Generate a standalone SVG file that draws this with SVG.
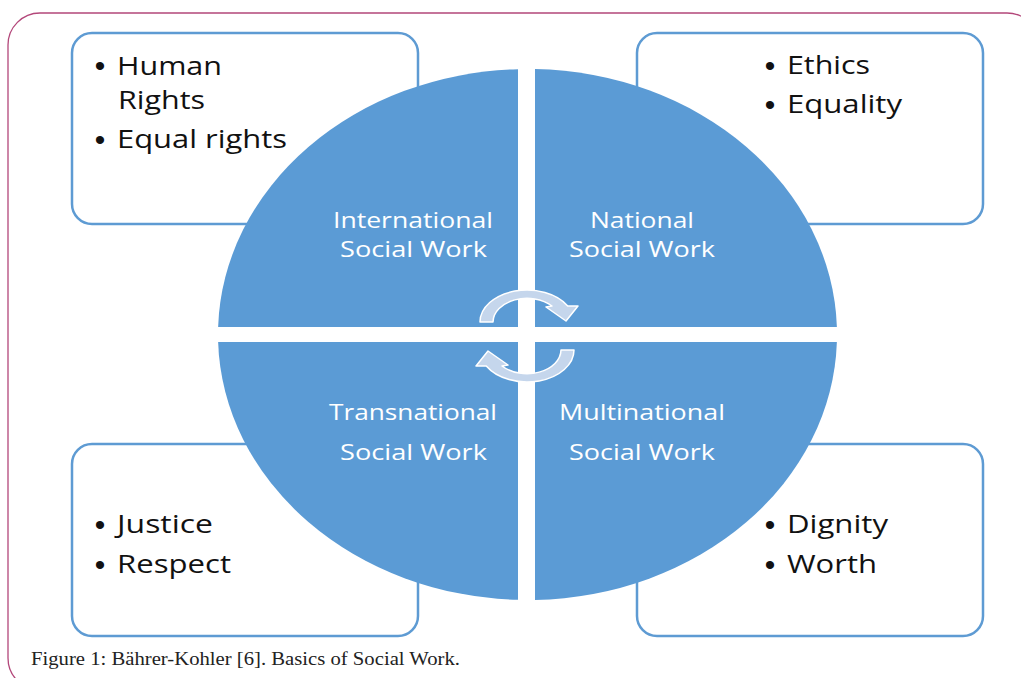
<svg xmlns="http://www.w3.org/2000/svg" width="1021" height="678" viewBox="0 0 1021 678">
<style>
.frame{fill:none;stroke:#b3477a;stroke-width:1.3}
.box{fill:#ffffff;stroke:#5e9bd3;stroke-width:2.5}
.quad{fill:#5b9bd5}
.cyc{fill:#c5d6ec;stroke:#ffffff;stroke-width:1.5;stroke-linejoin:round}
.lbl{font-family:"Open Sans","Liberation Sans",sans-serif;font-size:22px;fill:#ffffff}
.item{font-family:"Open Sans","Liberation Sans",sans-serif;font-size:25px;fill:#111111}
.bul{font-family:"Liberation Sans",Arial,sans-serif;font-size:30px;fill:#111111;text-anchor:middle}
.cap{font-family:"Liberation Serif","Times New Roman",serif;font-size:18px;fill:#222222}
</style>
<defs>
<path id="cycArrow" class="cyc" d="M480,322 A47,32 0 0 1 567.7,306 L578,306 L566,321 L546,307 L552,306 A34,24 0 0 0 493,322 Z"/>
</defs>
<rect class="frame" x="8" y="13" width="1031" height="677" rx="32" ry="32"/>

<g id="box-tl">
<rect class="box" x="72" y="33" width="346" height="191" rx="20" ry="20"/>
<text class="bul" x="100" y="76">•</text>
<text class="item" x="117" y="74.5" textLength="105" lengthAdjust="spacingAndGlyphs">Human</text>
<text class="item" x="118" y="109" textLength="87" lengthAdjust="spacingAndGlyphs">Rights</text>
<text class="bul" x="100" y="150">•</text>
<text class="item" x="117" y="148" textLength="170" lengthAdjust="spacingAndGlyphs">Equal rights</text>
</g>
<g id="box-tr">
<rect class="box" x="637" y="33" width="346" height="191" rx="20" ry="20"/>
<text class="bul" x="770" y="76">•</text>
<text class="item" x="787" y="74" textLength="83" lengthAdjust="spacingAndGlyphs">Ethics</text>
<text class="bul" x="770" y="115">•</text>
<text class="item" x="787" y="113" textLength="115" lengthAdjust="spacingAndGlyphs">Equality</text>
</g>
<g id="box-bl">
<rect class="box" x="72" y="444" width="346" height="192" rx="20" ry="20"/>
<text class="bul" x="100" y="535">•</text>
<text class="item" x="117" y="533" textLength="96" lengthAdjust="spacingAndGlyphs">Justice</text>
<text class="bul" x="100" y="575">•</text>
<text class="item" x="117" y="573" textLength="114" lengthAdjust="spacingAndGlyphs">Respect</text>
</g>
<g id="box-br">
<rect class="box" x="637" y="444" width="346" height="192" rx="20" ry="20"/>
<text class="bul" x="770" y="535">•</text>
<text class="item" x="787" y="533" textLength="101" lengthAdjust="spacingAndGlyphs">Dignity</text>
<text class="bul" x="770" y="575">•</text>
<text class="item" x="787" y="573" textLength="90" lengthAdjust="spacingAndGlyphs">Worth</text>
</g>

<g id="q-international">
<path class="quad" d="M518,327 L218.12,327 A309.5,265.5 0 0 1 518,69.13 Z"/>
<text class="lbl" x="333" y="228" textLength="160" lengthAdjust="spacingAndGlyphs">International</text>
<text class="lbl" x="340" y="257" textLength="147" lengthAdjust="spacingAndGlyphs">Social Work</text>
</g>
<g id="q-national">
<path class="quad" d="M535,327 L535,69.08 A309.5,265.5 0 0 1 836.88,327 Z"/>
<text class="lbl" x="590" y="228" textLength="104" lengthAdjust="spacingAndGlyphs">National</text>
<text class="lbl" x="569" y="257" textLength="146" lengthAdjust="spacingAndGlyphs">Social Work</text>
</g>
<g id="q-multinational">
<path class="quad" d="M535,342 L836.88,342 A309.5,265.5 0 0 1 535,599.92 Z"/>
<text class="lbl" x="559" y="420" textLength="166" lengthAdjust="spacingAndGlyphs">Multinational</text>
<text class="lbl" x="569" y="460" textLength="146" lengthAdjust="spacingAndGlyphs">Social Work</text>
</g>
<g id="q-transnational">
<path class="quad" d="M518,342 L518,599.87 A309.5,265.5 0 0 1 218.12,342 Z"/>
<text class="lbl" x="329" y="420" textLength="168" lengthAdjust="spacingAndGlyphs">Transnational</text>
<text class="lbl" x="340" y="460" textLength="147" lengthAdjust="spacingAndGlyphs">Social Work</text>
</g>

<g id="connectors">
<use href="#cycArrow"/>
<use href="#cycArrow" transform="rotate(180 527 336)"/>
</g>

<text class="cap" x="31" y="665" textLength="429" lengthAdjust="spacingAndGlyphs">Figure 1: Bährer-Kohler [6]. Basics of Social Work.</text>
</svg>
